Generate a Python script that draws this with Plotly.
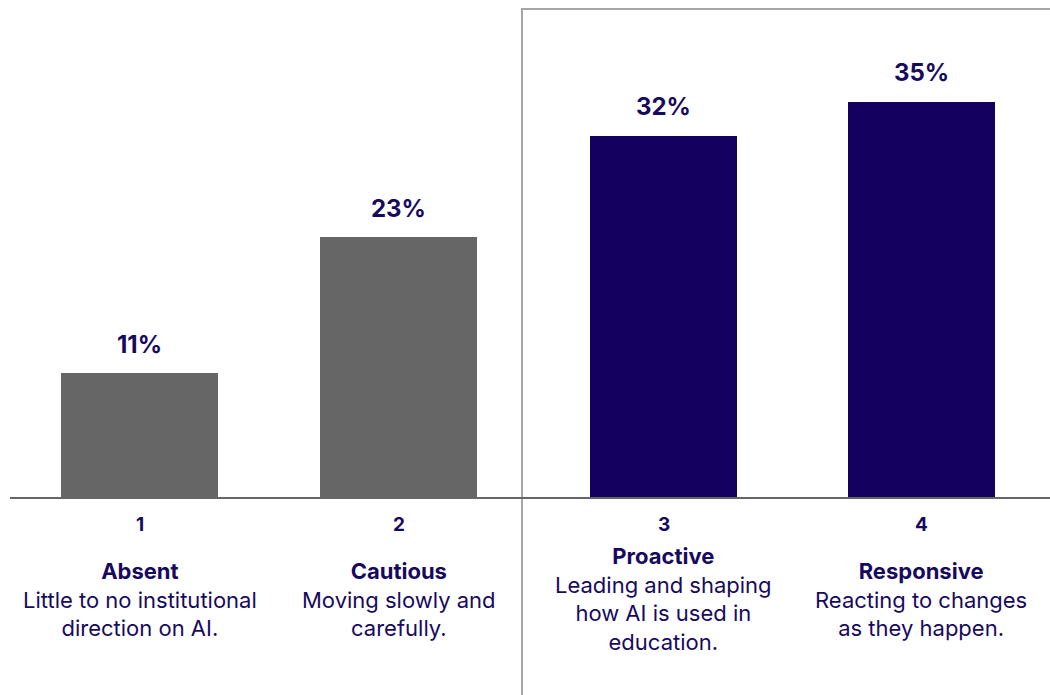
import plotly.graph_objects as go

# ---- data ----
numbers = ["1", "2", "3", "4"]
titles = ["Absent", "Cautious", "Proactive", "Responsive"]
descriptions = [
    "Little to no institutional<br>direction on AI.",
    "Moving slowly and<br>carefully.",
    "Leading and shaping<br>how AI is used in<br>education.",
    "Reacting to changes<br>as they happen.",
]
values = [11, 23, 32, 35]

# ---- style ----
W, H = 1050, 695
GRAY = "#666666"
NAVY = "#13005f"
TEXT = "#170a5e"
FONT = "Inter"
base_px = 498
ymax = 40
top_px = base_px - ymax * (396 / 35)

fig = go.Figure()

left_idx = [0, 1]
right_idx = [2, 3]

fig.add_trace(go.Bar(
    x=[numbers[i] for i in left_idx], y=[values[i] for i in left_idx],
    marker=dict(color=GRAY, line=dict(width=0)), width=0.608,
    xaxis="x", yaxis="y", hoverinfo="skip", showlegend=False))
fig.add_trace(go.Bar(
    x=[numbers[i] for i in right_idx], y=[values[i] for i in right_idx],
    marker=dict(color=NAVY, line=dict(width=0)), width=0.57,
    xaxis="x2", yaxis="y2", hoverinfo="skip", showlegend=False))

ydom = [(H - base_px) / H, (H - top_px) / H]
axis_common = dict(showgrid=False, zeroline=False, showline=False,
                   showticklabels=False, ticks="", fixedrange=True)
fig.update_layout(
    width=W, height=H,
    margin=dict(l=0, r=0, t=0, b=0),
    paper_bgcolor="white", plot_bgcolor="rgba(0,0,0,0)",
    font=dict(family=FONT, color=TEXT),
    xaxis=dict(domain=[10 / W, 528 / W], type="category", range=[-0.5, 1.5], **axis_common),
    yaxis=dict(domain=ydom, range=[0, ymax], **axis_common),
    xaxis2=dict(domain=[535 / W, 1.0], type="category", range=[-0.5, 1.5], **axis_common),
    yaxis2=dict(domain=ydom, range=[0, ymax], anchor="x2", **axis_common),
    bargap=0,
)

annotations = []
for i in range(4):
    xr = "x" if i < 2 else "x2"
    yr = "y" if i < 2 else "y2"
    pos = i if i < 2 else i - 2  # category index within its panel
    # value label
    annotations.append(dict(
        x=pos, y=values[i], xref=xr, yref=yr,
        text=f"<b>{values[i]}%</b>", showarrow=False,
        yanchor="middle", yshift=29,
        font=dict(size=24, color=TEXT, family=FONT)))
    # number label
    annotations.append(dict(
        x=pos, y=(H - 524) / H, xref=xr, yref="paper",
        text=f"<b>{numbers[i]}</b>", showarrow=False,
        yanchor="middle", font=dict(size=19, color=TEXT, family=FONT)))
    # title + description
    annotations.append(dict(
        x=pos, y=(H - 599) / H, xref=xr, yref="paper",
        text=f"<b>{titles[i]}</b><br>{descriptions[i]}", showarrow=False,
        yanchor="middle", align="center",
        font=dict(size=22, color=TEXT, family=FONT)))
fig.update_layout(annotations=annotations)

shapes = [
    # right panel frame
    dict(type="rect", xref="paper", yref="paper",
         x0=522 / W, x1=1.05, y0=-0.05, y1=(H - 9) / H,
         line=dict(color="#a6a6a6", width=2), fillcolor="rgba(0,0,0,0)", layer="below"),
    # baseline
    dict(type="line", xref="paper", yref="paper",
         x0=10 / W, x1=1.0, y0=(H - base_px) / H, y1=(H - base_px) / H,
         line=dict(color=GRAY, width=2), layer="above"),
]
fig.update_layout(shapes=shapes)

fig.write_html("out.html", config={"displayModeBar": False},
               post_script="document.body.style.margin='0';document.body.style.overflow='hidden';")
